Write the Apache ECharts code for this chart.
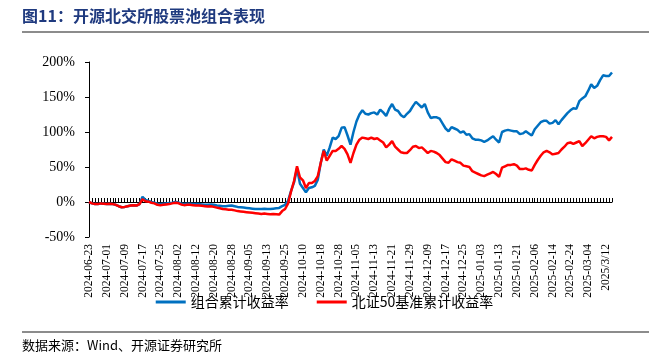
<!DOCTYPE html>
<html>
<head>
<meta charset="utf-8">
<script src="https://cdn.jsdelivr.net/npm/echarts@6/dist/echarts.min.js"></script>
<style>
  html, body { margin: 0; padding: 0; background: #fff; }
  #main { width: 649px; height: 364px; }
</style>
</head>
<body>
<div id="main"></div>
<script>
// 每6个交易日一个刻度标签
var tickLabels = ['2024-06-23', '2024-07-01', '2024-07-09', '2024-07-17', '2024-07-25', '2024-08-02',
  '2024-08-12', '2024-08-20', '2024-08-28', '2024-09-05', '2024-09-13', '2024-09-25',
  '2024-10-10', '2024-10-18', '2024-10-28', '2024-11-05', '2024-11-13', '2024-11-21',
  '2024-11-29', '2024-12-09', '2024-12-17', '2024-12-25', '2025-01-03', '2025-01-13',
  '2025-01-21', '2025-02-06', '2025-02-14', '2025-02-24', '2025-03-04', '2025/3/12'];

// 组合累计收益率 (%)
var portfolio = [
  0, -2, -3, -3, -2, -2.5, -3, -2.5, -3, -4, -6, -7.5, -7, -6, -5, -4.5, -5, -3,
  7.5, 3, 1.5, 0, -1, -2.5, -3, -2.5, -2, -1.5, -1, 0, -0.5, -2, -3, -2.5, -2.5, -3,
  -3, -3, -3.5, -4, -4, -3.5, -4, -5, -5.5, -6, -6, -5.5, -5, -6, -7, -7.5, -8, -8.5,
  -9, -9.5, -10, -10, -10, -9.5, -10, -10, -9.5, -9, -8.5, -6, -4, 2, 16, 28, 48, 26,
  20, 14, 20, 21, 23, 32, 56, 75, 66, 78, 92, 90, 94, 106, 107, 95, 82, 100, 115, 125,
  131, 126, 125, 127, 128, 125, 132, 128, 123, 133, 140, 132, 130, 124, 121, 126, 130, 137,
  143, 139, 135, 140, 128, 120, 121, 121, 119, 112, 105, 101, 107, 105, 103, 99, 101, 96,
  97, 91, 89, 89, 88, 86, 88, 91, 94, 89, 85, 100, 102, 103, 102, 101, 101, 97,
  98, 101, 98, 95, 104, 109, 114, 116, 116, 112, 113, 117, 111, 117, 122, 127, 131, 134,
  133, 144, 148, 151, 159, 168, 163, 166, 174, 181, 180, 180, 185
];

// 北证50基准累计收益率 (%)
var benchmark = [
  0, -2, -3, -3, -2, -2.5, -3, -2.5, -3, -4, -6, -7.5, -7, -6, -5, -4.5, -5, -3,
  4, 1, 0.5, -1, -2, -4, -4.5, -4, -3.5, -3, -2, -1, -1.5, -3.5, -4.5, -4, -4, -4.5,
  -5, -5, -5.5, -6, -6.5, -6, -7, -8, -9, -10, -10.5, -11, -11, -12, -13, -13.5, -14, -14.5,
  -15, -15.5, -16, -16.5, -17, -16.5, -17, -17.5, -17, -17.5, -18, -13, -10, -2, 15, 30, 51, 35,
  31, 20, 27, 27, 30, 37, 56, 73, 59, 66, 73, 73, 76, 80, 76, 68, 56, 70, 82, 89,
  92, 91, 90, 92, 90, 91, 88, 85, 78, 82, 87, 79, 75, 71, 70, 70, 74, 79,
  80, 77, 78, 74, 70, 73, 72, 70, 67, 62, 57, 56, 61, 59, 57, 56, 52, 51,
  50, 44, 42, 40, 38, 37, 39, 41, 43, 40, 36, 49, 51, 53, 53, 54, 52, 47,
  47, 48, 46, 45, 53, 60, 66, 71, 73, 71, 68, 69, 70, 75, 79, 84, 85, 83,
  85, 87, 80, 84, 89, 94, 91, 93, 94, 94, 93, 88, 93
];

var days = [];
for (var i = 0; i < portfolio.length; i++) days.push(i);

var serif = '"Liberation Serif", "Times New Roman", serif';
var cjk = '"Noto Sans CJK SC", sans-serif';

var chart = echarts.init(document.getElementById('main'));
chart.setOption({
  animation: false,
  backgroundColor: '#fff',
  grid: { left: 89, right: 37, top: 62, height: 175 },
  legend: {
    top: 290,
    left: 'center',
    icon: 'rect',
    itemWidth: 30,
    itemHeight: 3,
    itemGap: 28,
    textStyle: { fontFamily: cjk, fontSize: 14, color: '#000' },
    data: ['组合累计收益率', '北证50基准累计收益率']
  },
  xAxis: {
    type: 'category',
    data: days,
    boundaryGap: false,
    axisLine: { onZero: true, lineStyle: { color: '#000', width: 1 } },
    axisTick: { show: true, inside: true, length: 4, interval: 0, lineStyle: { color: '#000' } },
    axisLabel: {
      interval: 5,
      rotate: 90,
      margin: 7,
      fontFamily: serif,
      fontSize: 11.5,
      color: '#000',
      formatter: function (v) {
        var k = Number(v);
        return k % 6 === 0 && tickLabels[k / 6] ? tickLabels[k / 6] : '';
      }
    },
    splitLine: { show: false }
  },
  yAxis: {
    type: 'value',
    min: -50,
    max: 200,
    interval: 50,
    axisLine: { show: true, lineStyle: { color: '#000', width: 1 } },
    axisTick: { show: true, length: 4, lineStyle: { color: '#000' } },
    axisLabel: { fontFamily: serif, fontSize: 14, color: '#000', margin: 14, formatter: '{value}%' },
    splitLine: { show: false }
  },
  series: [
    {
      name: '组合累计收益率',
      type: 'line',
      data: portfolio,
      showSymbol: false,
      symbol: 'none',
      lineStyle: { color: '#0070C0', width: 2.5 },
      itemStyle: { color: '#0070C0' }
    },
    {
      name: '北证50基准累计收益率',
      type: 'line',
      data: benchmark,
      showSymbol: false,
      symbol: 'none',
      lineStyle: { color: '#FF0000', width: 2.5 },
      itemStyle: { color: '#FF0000' }
    }
  ],
  graphic: [
    {
      type: 'text', left: 22, top: 8,
      style: { text: '图11：开源北交所股票池组合表现', font: 'bold 16px ' + cjk, fill: '#1F3A7F' }
    },
    {
      type: 'line', shape: { x1: 22, y1: 32, x2: 649, y2: 32 },
      style: { stroke: '#8C8C8C', lineWidth: 2 }
    },
    {
      type: 'line', shape: { x1: 22, y1: 332, x2: 649, y2: 332 },
      style: { stroke: '#8C8C8C', lineWidth: 2 }
    },
    {
      type: 'text', left: 22, top: 339,
      style: { text: '数据来源：Wind、开源证券研究所', font: '13px ' + cjk, fill: '#000' }
    }
  ]
});
</script>
</body>
</html>
